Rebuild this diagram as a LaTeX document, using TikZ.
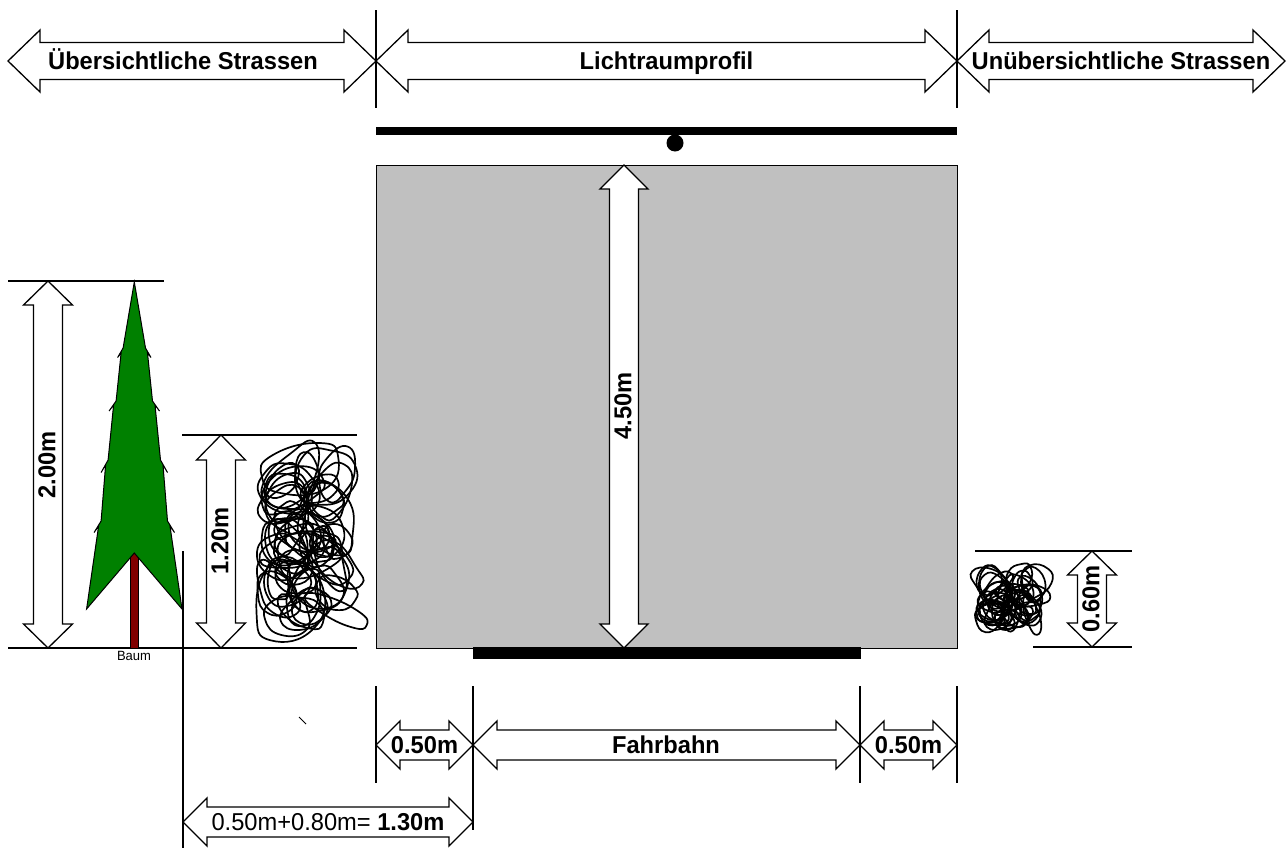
\documentclass[tikz,border=0pt]{standalone}
\usepackage{fontspec}
\setmainfont[FakeStretch=0.97]{Liberation Sans}
\definecolor{boxgray}{RGB}{192,192,192}
\definecolor{treegreen}{RGB}{0,128,0}
\definecolor{trunkred}{RGB}{128,0,0}
\newcommand{\hdarrow}[6]{% x1 x2 y headlen headhalf shafthalf
  \draw[arrowshape] (#1,#3) -- (#1+#4,#3-#5) -- (#1+#4,#3-#6) -- (#2-#4,#3-#6) -- (#2-#4,#3-#5) -- (#2,#3)
    -- (#2-#4,#3+#5) -- (#2-#4,#3+#6) -- (#1+#4,#3+#6) -- (#1+#4,#3+#5) -- cycle;}
\newcommand{\vdarrow}[6]{% x y1 y2 headlen headhalf shafthalf
  \draw[arrowshape] (#1,#2) -- (#1+#5,#2+#4) -- (#1+#6,#2+#4) -- (#1+#6,#3-#4) -- (#1+#5,#3-#4) -- (#1,#3)
    -- (#1-#5,#3-#4) -- (#1-#6,#3-#4) -- (#1-#6,#2+#4) -- (#1-#5,#2+#4) -- cycle;}
\newcommand{\scribloop}[5]{% cx cy rx ry angle
  \draw[scribble,rotate around={#5:(#1,#2)}] plot[smooth cycle,tension=0.9] coordinates {
    ({#1+#3*(0.85+0.3*rnd)},{#2+#4*0.3*rand})
    ({#1+#3*0.5*(0.8+0.4*rnd)},{#2+#4*(0.8+0.3*rnd)})
    ({#1-#3*0.5*(0.8+0.4*rnd)},{#2+#4*(0.8+0.3*rnd)})
    ({#1-#3*(0.85+0.3*rnd)},{#2+#4*0.3*rand})
    ({#1-#3*0.5*(0.8+0.4*rnd)},{#2-#4*(0.8+0.3*rnd)})
    ({#1+#3*0.5*(0.8+0.4*rnd)},{#2-#4*(0.8+0.3*rnd)})
  };}
\begin{document}
\begin{tikzpicture}[x=1pt,y=-1pt,
  arrowshape/.style={draw=black,fill=white,line width=1.3pt,line join=miter},
  rule/.style={draw=black,line width=1.4pt},
  lbl/.style={font=\bfseries\fontsize{24.4}{27}\selectfont,inner sep=0pt},
  toplbl/.style={lbl,anchor=base},
  vlbl/.style={lbl,rotate=90},
  small/.style={font=\fontsize{13.4}{15}\selectfont,inner sep=0pt},
  scribble/.style={draw=black,line width=1.7pt}]
\useasboundingbox (0,0) rectangle (1288,857);

% top dimension arrows
\draw[rule] (376,10) -- (376,108);
\draw[rule] (957,10) -- (957,108);
\hdarrow{8}{376}{61}{32}{31}{18.5}
\hdarrow{376}{957}{61}{32}{31}{18.5}
\hdarrow{957}{1285}{61}{32}{31}{18.5}
\node[toplbl] (uebers) at (183,69) {Übersichtliche Strassen};
\node[toplbl] (licht) at (666.5,69) {Lichtraumprofil};
\node[toplbl] (unuebers) at (1121,69) {Unübersichtliche Strassen};

% top bar and dot
\draw[line width=8pt] (376,131) -- (957,131);
\fill (675,143) circle [radius=8.5pt];

% clearance profile box
\draw[fill=boxgray,line width=1pt] (376,165) rectangle (957,648);
\vdarrow{624}{165}{648}{24}{24}{14.5}
\node[vlbl] (h450) at (623,406) {4.50m};

% road bar
\fill (473,647) rectangle (861,659);

% ground lines left
\draw[rule] (8,648) -- (357,648);
\draw[rule] (8,281) -- (164,281);
\draw[rule] (182,435) -- (357,435);

% 2.00m
\vdarrow{48}{281}{648}{24}{24.5}{14.5}
\node[vlbl] (h200) at (47,465) {2.00m};

% tree
\draw[fill=trunkred,line width=1pt] (130,553) rectangle (138,648);
\draw[fill=treegreen,line width=1pt,line join=miter]
  (134.3,282)
  -- (145.5,348) -- (151,357.5) -- (147.5,353)
  -- (152.5,401) -- (159.5,411) -- (155,405)
  -- (160.5,460) -- (167.5,472.5) -- (163,465)
  -- (167.5,521) -- (174.5,532.5) -- (170,526)
  -- (182,609) -- (134.3,553) -- (86.6,609)
  -- (98.6,526) -- (94.1,532.5) -- (101.1,521)
  -- (105.6,465) -- (101.1,472.5) -- (108.1,460)
  -- (113.6,405) -- (109.1,411) -- (116.1,401)
  -- (121.1,353) -- (117.6,357.5) -- (123.1,348)
  -- cycle;
\node[small] (baum) at (134,656) {Baum};

% 1.20m
\vdarrow{221}{435}{648}{25}{24.5}{14.5}
\node[vlbl] (h120) at (220,541) {1.20m};

% left bush
\pgfmathsetseed{5}
\foreach \i in {1,...,50}{
  \pgfmathsetmacro\cx{306+32*rand}
  \pgfmathsetmacro\cy{545+72*rand}
  \pgfmathsetmacro\rx{15+21*rnd}
  \pgfmathsetmacro\ry{9+16*rnd}
  \pgfmathsetmacro\ang{180*rnd}
  \scribloop{\cx}{\cy}{\rx}{\ry}{\ang}
}
\scribloop{300}{470}{42}{24}{10}
\scribloop{290}{600}{40}{28}{75}
\scribloop{330}{520}{35}{22}{100}

% right bush
\pgfmathsetseed{13}
\foreach \i in {1,...,38}{
  \pgfmathsetmacro\cx{1010+25*rand}
  \pgfmathsetmacro\cy{603+26*rand}
  \pgfmathsetmacro\rx{10+13*rnd}
  \pgfmathsetmacro\ry{6+10*rnd}
  \pgfmathsetmacro\ang{180*rnd}
  \scribloop{\cx}{\cy}{\rx}{\ry}{\ang}
}

% 0.60m
\draw[rule] (975,551) -- (1132,551);
\draw[rule] (1033,647) -- (1132,647);
\vdarrow{1092}{551}{647}{24}{24.5}{14.5}
\node[vlbl] (h060) at (1091,599) {0.60m};

% bottom dimension ticks
\draw[rule] (376,686) -- (376,783);
\draw[rule] (473,686) -- (473,830);
\draw[rule] (860,686) -- (860,783);
\draw[rule] (957,686) -- (957,783);
\draw[rule] (183,551) -- (183,848);
\draw[line width=1pt] (299,717) -- (306,724);

% bottom arrows
\hdarrow{376}{473}{745}{24}{24}{15}
\hdarrow{473}{860}{745}{24}{24}{15}
\hdarrow{860}{957}{745}{24}{24}{15}
\node[lbl] (w050a) at (424.5,745) {0.50m};
\node[lbl] (fahr) at (666,745) {Fahrbahn};
\node[lbl] (w050b) at (908.5,745) {0.50m};

\hdarrow{183}{473}{822}{24}{24}{15}
\node[font=\fontsize{24.4}{27}\selectfont,inner sep=0pt] (w130) at (328,822) {0.50m+0.80m= \textbf{1.30m}};
\end{tikzpicture}
\end{document}
